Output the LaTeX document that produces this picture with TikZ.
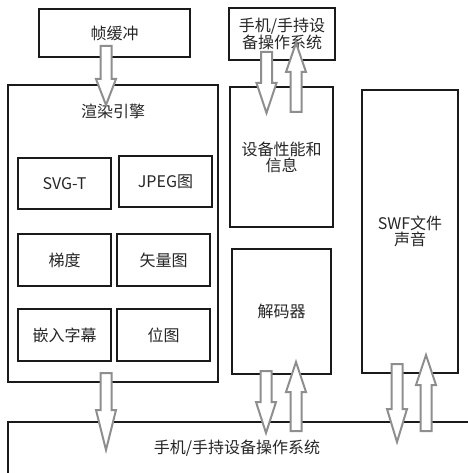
\documentclass[tikz,border=0pt]{standalone}
\usepackage{fontspec}
\setmainfont{Noto Sans CJK SC}
\usetikzlibrary{calc}
\definecolor{arrgray}{HTML}{8E8E8E}
\definecolor{boxline}{HTML}{1A1A1A}
\definecolor{txt}{HTML}{262626}
\tikzset{
  box/.style={draw=boxline, line width=1.6pt, fill=white, inner sep=0pt, align=center,
    text=txt, font=\fontsize{16}{16}\selectfont},
  lbl/.style={inner sep=0pt, align=center, text=txt, font=\fontsize{16}{16}\selectfont},
  blockarr/.style={draw=arrgray, line width=2pt, fill=white, line join=miter}
}
\newcommand\blkarrow[3]{%
  \draw[blockarr] let \p1=(#1), \p2=(#2), \p3=($(#2)!#3pt!(#1)$) in
    (\x1-5.5pt,\y1) -- (\x1-5.5pt,\y3) -- (\x1-10pt,\y3) -- (\x2,\y2)
    -- (\x1+10pt,\y3) -- (\x1+5.5pt,\y3) -- (\x1+5.5pt,\y1) -- cycle;}
\begin{document}
\begin{tikzpicture}[x=1pt,y=-1pt]
\useasboundingbox (0,0) rectangle (467,473);
% boxes
\node[box, minimum width=151pt, minimum height=48pt] (fb) at (114.5,33) {帧缓冲};
\node[box, minimum width=210pt, minimum height=297pt] (re) at (113,233.5) {};
\node[lbl] (relab) at (113,111) {渲染引擎};
\node[box, minimum width=93pt, minimum height=51pt] (svg) at (64.5,183.5) {SVG-T};
\node[box, minimum width=93pt, minimum height=51pt] (jpeg) at (165.5,181.5) {JPEG图};
\node[box, minimum width=93pt, minimum height=52pt] (grad) at (64.5,260) {梯度};
\node[box, minimum width=93pt, minimum height=52pt] (vec) at (163.5,260) {矢量图};
\node[box, minimum width=93pt, minimum height=52pt] (emb) at (64.5,335) {嵌入字幕};
\node[box, minimum width=93pt, minimum height=52pt] (bmp) at (163.5,335) {位图};
\node[box, minimum width=106pt, minimum height=52pt] (os1) at (282,34) {手机/手持设\\备操作系统};
\node[box, minimum width=103pt, minimum height=140pt] (dev) at (281.5,157) {设备性能和\\信息};
\node[box, minimum width=99pt, minimum height=125pt] (dec) at (281.5,311.5) {解码器};
\node[box, minimum width=96pt, minimum height=283pt] (swf) at (410,231.5) {SWF文件\\声音};
\node[box, minimum width=470pt, minimum height=52pt, anchor=north west] (os2) at (7,421) {};
\node[lbl] (os2lab) at (237,448) {手机/手持设备操作系统};
% arrow end points
\coordinate (a1s) at (106,46);   \coordinate (a1e) at (106,105);
\coordinate (a2s) at (266.5,52); \coordinate (a2e) at (266.5,113);
\coordinate (a3s) at (296,112);  \coordinate (a3e) at (296,43);
\coordinate (a4s) at (106,373);  \coordinate (a4e) at (106,450);
\coordinate (a5s) at (266,371);  \coordinate (a5e) at (266,433);
\coordinate (a6s) at (296,431);  \coordinate (a6e) at (296,362);
\coordinate (a7s) at (397,364);  \coordinate (a7e) at (397,442);
\coordinate (a8s) at (426,431);  \coordinate (a8e) at (426,355);
\blkarrow{a1s}{a1e}{26}
\blkarrow{a2s}{a2e}{30}
\blkarrow{a3s}{a3e}{29}
\blkarrow{a4s}{a4e}{40}
\blkarrow{a5s}{a5e}{31}
\blkarrow{a6s}{a6e}{30}
\blkarrow{a7s}{a7e}{33}
\blkarrow{a8s}{a8e}{30}
\end{tikzpicture}
\end{document}
